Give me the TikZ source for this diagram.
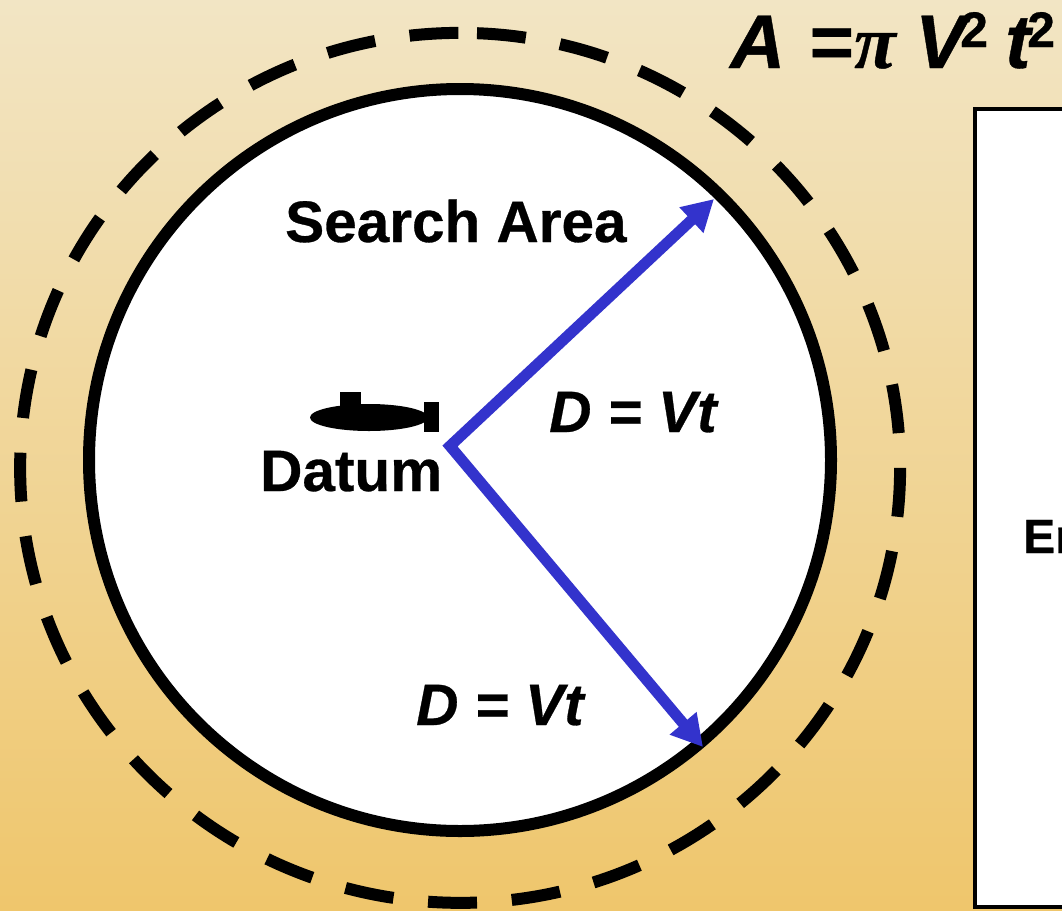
\documentclass[tikz,border=0pt]{standalone}
\usepackage{fontspec}
\setmainfont{Liberation Sans}[BoldFeatures={FakeBold=0.5},BoldItalicFeatures={FakeBold=0.5}]
\newfontfamily\symfont{Liberation Serif}[BoldItalicFeatures={FakeBold=0.5}]
\definecolor{bgtop}{HTML}{F2E5C4}
\definecolor{bgbot}{HTML}{EFC66C}
\definecolor{arrowblue}{HTML}{3333CC}
\usetikzlibrary{arrows.meta}
\tikzset{
  lbl/.style={font=\fontsize{58.5}{58.5}\selectfont\bfseries, inner sep=0pt, text=black},
  lbli/.style={font=\fontsize{58.5}{58.5}\selectfont\bfseries\itshape, inner sep=0pt, text=black},
  big/.style={font=\fontsize{76}{76}\selectfont\bfseries\itshape, inner sep=0pt, text=black},
  sup2/.style={font=\fontsize{50}{50}\selectfont\bfseries, inner sep=0pt, text=black},
  radius line/.style={draw=arrowblue, line width=11pt, line cap=butt, line join=miter,
     {Triangle[length=31pt,width=33pt,fill=arrowblue]}-{Triangle[length=31pt,width=33pt,fill=arrowblue]}},
}
\begin{document}
\begin{tikzpicture}[x=1pt,y=-1pt]
\useasboundingbox (0,0) rectangle (1062,910);
\begin{scope}
\clip (0,0) rectangle (1062,910);
\shade[top color=bgtop,bottom color=bgbot] (0,0) rectangle (1062,910);
% dashed ring: starts at the top, runs clockwise
\draw[line width=12pt,dash pattern=on 49pt off 34.8pt] (477,33.2) arc [start angle=-87.8,end angle=272.2,x radius=440,y radius=435];
% search area
\draw[line width=12pt,fill=white] (460,460) circle [radius=371];
% right box
\draw[line width=4.5pt,fill=white] (975,109) rectangle (1100,907);
\node[anchor=base west,inner sep=0pt,font=\fontsize{48}{48}\selectfont\bfseries] (er) at (1023,553) {Er};
% submarine
\fill (369,417.5) ellipse [x radius=59,y radius=13.5];
\fill (340,392) rectangle (361,410);
\fill (424,402) rectangle (439,432);
% labels
\node[lbl,anchor=base west] (search) at (285,242) {Search Area};
\node[lbl,anchor=base west] (datum) at (260,491) {Datum};
\node[lbli,anchor=base west] (d1) at (549,432) {D = Vt};
\node[lbli,anchor=base west] (d2) at (416,725) {D = Vt};
\node[big,anchor=base west] (area) at (730,68) {A};
\node[big,anchor=base west] (eq) at (808,68) {=};
\node[big,anchor=base west,font=\fontsize{76}{76}\selectfont\bfseries\itshape\symfont] (pi) at (854,68) {π};
\node[big,anchor=base west] (vv) at (915,68) {V};
\node[sup2,anchor=base west] (s1) at (960,47) {2};
\node[big,anchor=base west] (tt) at (1005,68) {t};
\node[sup2,anchor=base west] (s2) at (1027,47) {2};
% arrows
\coordinate (datumpt) at (450,446);
\coordinate (tip1) at (714,199);
\coordinate (tip2) at (703,747);
\draw[radius line] (tip1) -- (datumpt) -- (tip2);
\end{scope}
\end{tikzpicture}
\end{document}
